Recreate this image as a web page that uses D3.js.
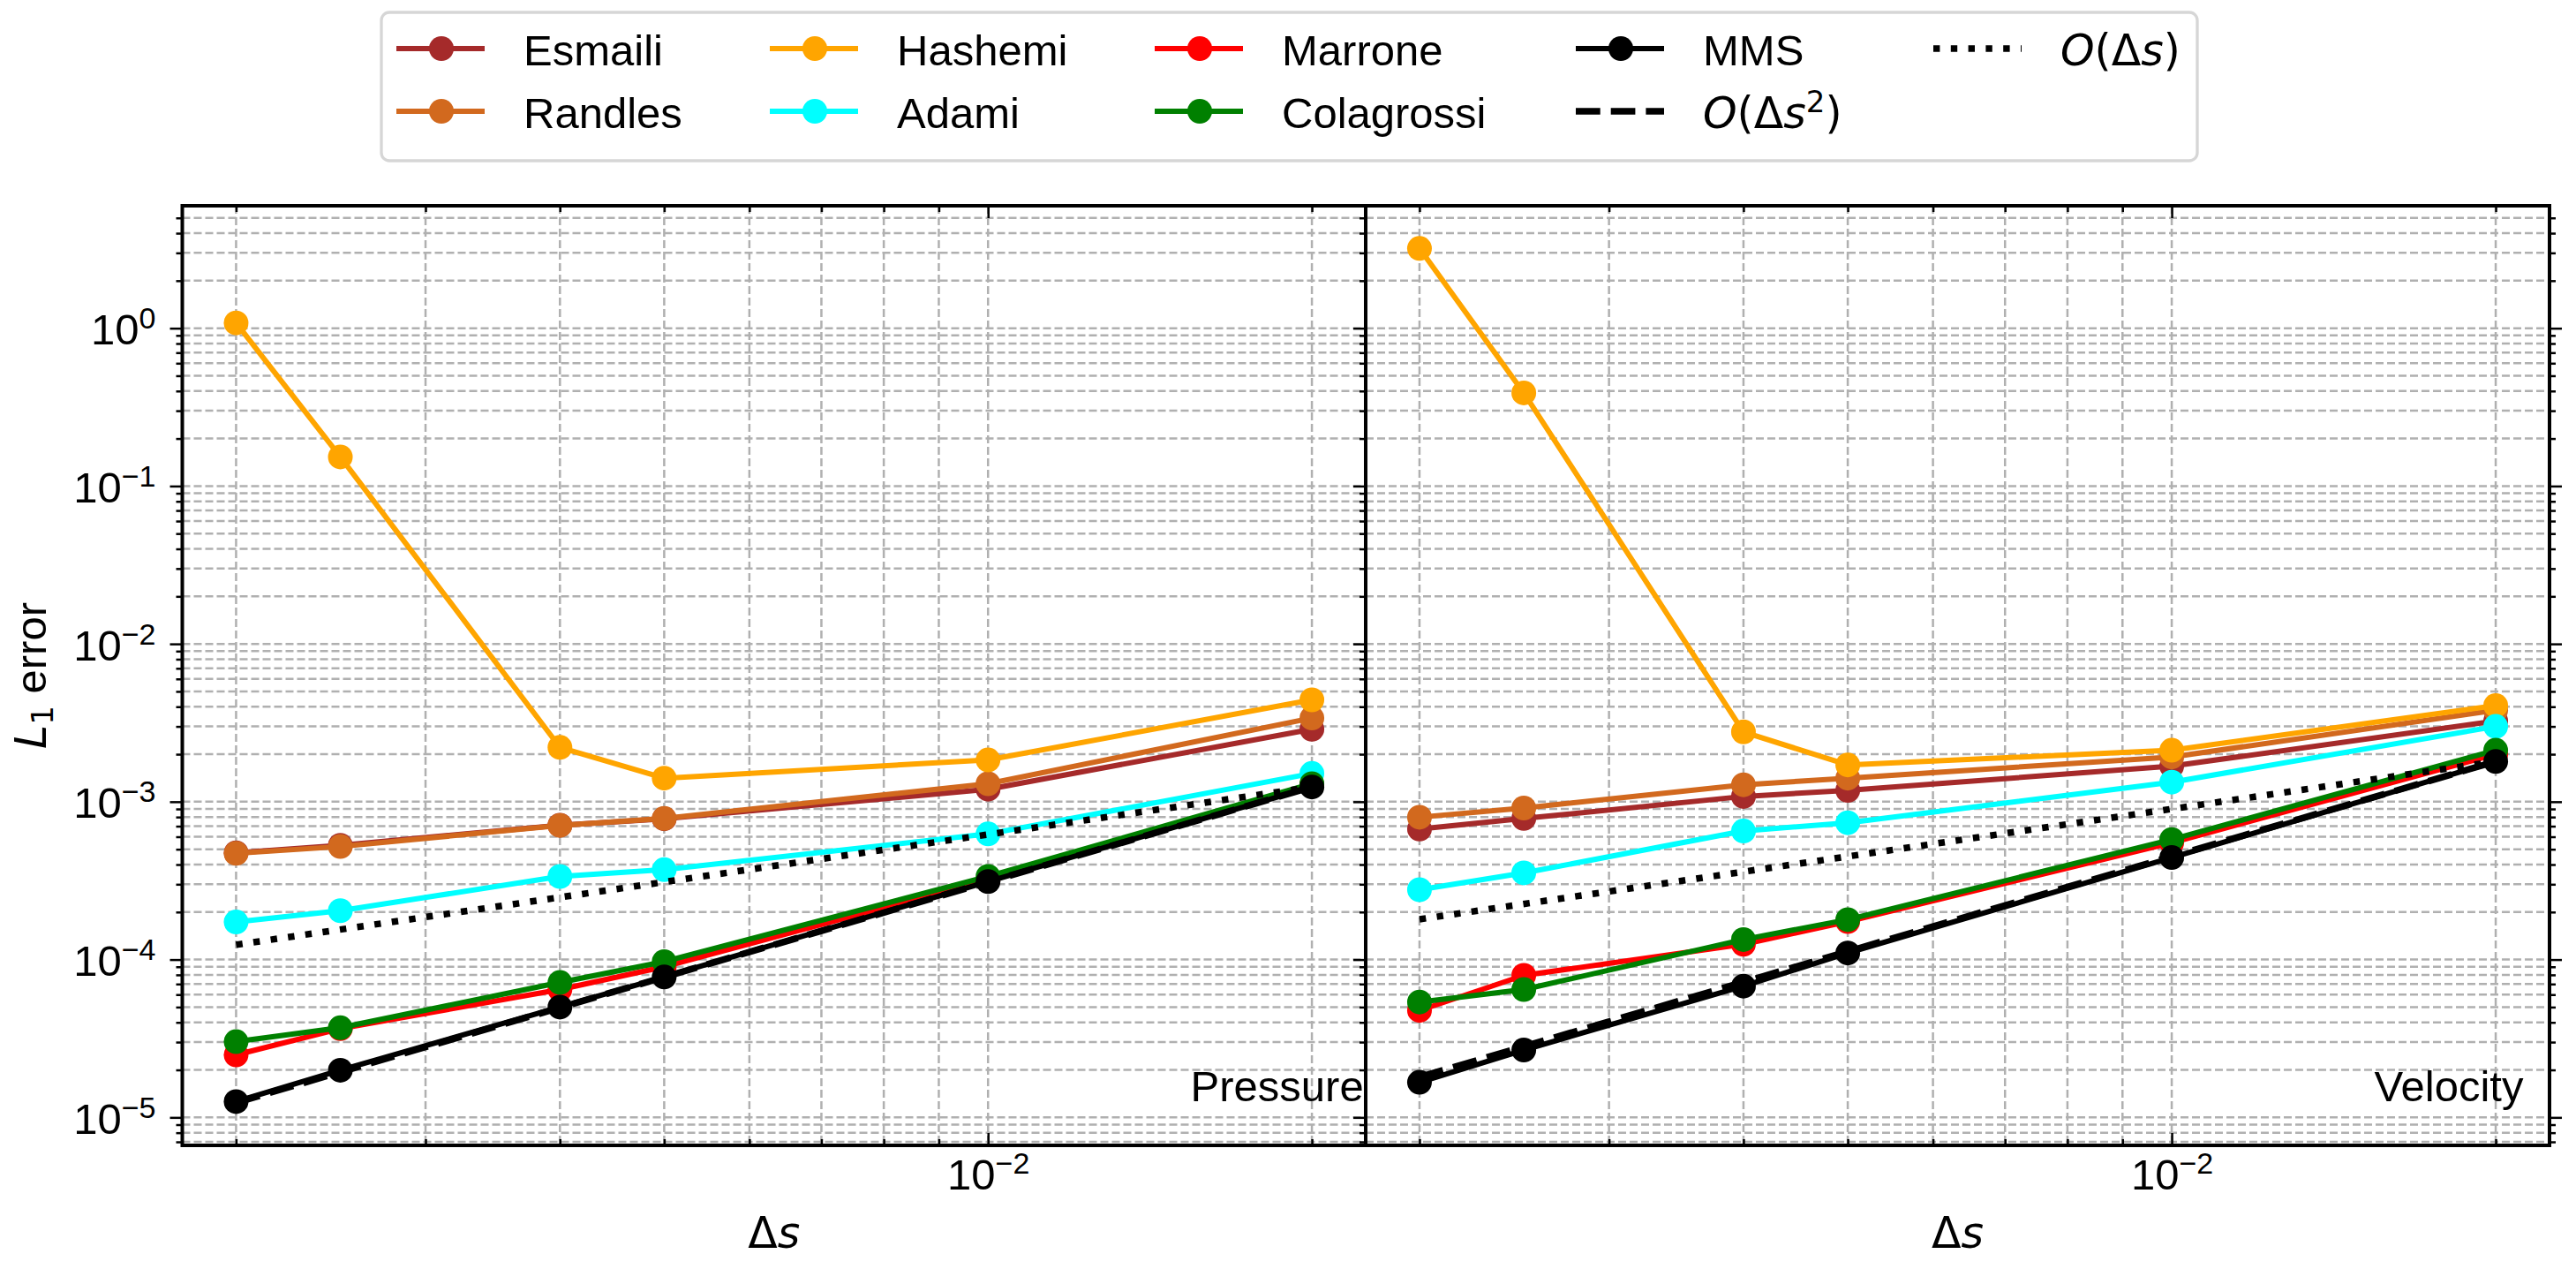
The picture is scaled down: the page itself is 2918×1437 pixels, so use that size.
<!DOCTYPE html>
<html>
<head>
<meta charset="utf-8">
<script src="https://cdn.jsdelivr.net/npm/d3@7"></script>
<style>
  body { margin: 0; background: #fff; }
  svg { display: block; }
  text { font-family: "Liberation Sans", Arial, Helvetica, sans-serif; fill: #000; }
  .math { font-family: "DejaVu Sans", sans-serif; }
</style>
</head>
<body>
<svg id="chart" width="2918" height="1437"></svg>
<script>
// ---- data ----
const deltaS = [0.002, 0.0025, 0.004, 0.005, 0.01, 0.02];
const methods = ['Esmaili', 'Randles', 'Hashemi', 'Adami', 'Marrone', 'Colagrossi', 'MMS'];
const methodColors = ['#a52a2a', '#d2691e', '#ffa500', '#00ffff', '#ff0000', '#008000', '#000000'];

// pressure L1 error
const esmailiP    = [4.75e-4, 5.3e-4, 7.1e-4, 7.8e-4, 1.2e-3, 2.88e-3];
const randlesP    = [4.71e-4, 5.2e-4, 7.08e-4, 7.83e-4, 1.3e-3, 3.39e-3];
const hashemiP    = [1.08, 0.153, 2.21e-3, 1.41e-3, 1.84e-3, 4.42e-3];
const adamiP      = [1.73e-4, 2.04e-4, 3.36e-4, 3.71e-4, 6.25e-4, 1.51e-3];
const marroneP    = [2.49e-5, 3.65e-5, 6.46e-5, 9.0e-5, 3.2e-4, 1.28e-3];
const colagrossiP = [3.02e-5, 3.7e-5, 7.16e-5, 9.7e-5, 3.36e-4, 1.3e-3];
const mmsP        = [1.26e-5, 1.99e-5, 5.0e-5, 7.76e-5, 3.12e-4, 1.24e-3];

// velocity L1 error
const esmailiV    = [6.71e-4, 7.83e-4, 1.08e-3, 1.18e-3, 1.68e-3, 3.25e-3];
const randlesV    = [7.98e-4, 9.12e-4, 1.28e-3, 1.41e-3, 1.92e-3, 3.8e-3];
const hashemiV    = [3.2, 0.389, 2.77e-3, 1.71e-3, 2.12e-3, 4.07e-3];
const adamiV      = [2.77e-4, 3.54e-4, 6.52e-4, 7.36e-4, 1.33e-3, 3.0e-3];
const marroneV    = [4.76e-5, 7.94e-5, 1.25e-4, 1.74e-4, 5.5e-4, 2.0e-3];
const colagrossiV = [5.38e-5, 6.46e-5, 1.34e-4, 1.79e-4, 5.76e-4, 2.12e-3];
const mmsV        = [1.67e-5, 2.67e-5, 6.79e-5, 1.1e-4, 4.43e-4, 1.8e-3];

// reference slope lines (end points)
const refDeltaS = [0.002, 0.02];
const order2P = [1.24e-5, 1.24e-3];
const order1P = [1.24e-4, 1.24e-3];
const order2V = [1.8e-5, 1.8e-3];
const order1V = [1.8e-4, 1.8e-3];

// ---- layout ----
const svg = d3.select('#chart');
const plotTop = 233, plotBottom = 1297;
const FS = 49, SUP = 34;
const lineW = 6, refW = 7.5, markerR = 14;
const dotted = '7.4,12.4', dashed = '27.7,12';

const panels = [
  { name: 'Pressure', x0: 206.5, x1: 1547, series: [esmailiP, randlesP, hashemiP, adamiP, marroneP, colagrossiP, mmsP], ref2: order2P, ref1: order1P },
  { name: 'Velocity', x0: 1547, x1: 2888, series: [esmailiV, randlesV, hashemiV, adamiV, marroneV, colagrossiV, mmsV], ref2: order2V, ref1: order1V }
];

// autoscale with 5% margin in log space, like matplotlib
function logPad(vals) {
  const lo = Math.log10(d3.min(vals)), hi = Math.log10(d3.max(vals));
  const p = (hi - lo) * 0.05;
  return [Math.pow(10, lo - p), Math.pow(10, hi + p)];
}
const allY = panels.flatMap(p => p.series.flat().concat(p.ref2, p.ref1));
const yDomain = logPad(allY);
const xDomain = logPad(deltaS);
const y = d3.scaleLog().domain(yDomain).range([plotBottom, plotTop]);

function logTicks(dom) {
  const out = [];
  for (let k = -8; k <= 2; k++) {
    for (let m = 1; m < 10; m++) {
      const v = +(m * Math.pow(10, k)).toPrecision(6);
      if (v >= dom[0] && v <= dom[1]) out.push({ v: v, major: m === 1, exp: k });
    }
  }
  return out;
}
const yTicks = logTicks(yDomain);
const xTicks = logTicks(xDomain);

// rich text helper: parts = [{t, italic, sup, sub, math}]
function rich(textSel, parts, size) {
  let shift = 0;
  parts.forEach(p => {
    const ts = textSel.append('tspan').text(p.t);
    let target = 0;
    if (p.sup) { target = -size * 0.37; ts.attr('font-size', SUP); }
    if (p.sub) { target = size * 0.16; ts.attr('font-size', SUP); }
    if (target !== shift) { ts.attr('dy', target - shift); shift = target; }
    if (p.italic) ts.attr('font-style', 'italic');
    if (p.math) ts.attr('class', 'math');
  });
  return textSel;
}
function powLabel(exp) {
  return [{ t: '10' }, { t: String(exp).replace('-', '\u2212'), sup: true }];
}

panels.forEach((pn, pi) => {
  const x = d3.scaleLog().domain(xDomain).range([pn.x0, pn.x1]);
  const g = svg.append('g');

  // grid, major and minor
  const grid = g.append('g').attr('stroke', '#b0b0b0').attr('stroke-width', 2.5)
    .attr('stroke-dasharray', '9,4').attr('fill', 'none');
  grid.selectAll('.gy').data(yTicks).join('line')
    .attr('x1', pn.x0).attr('x2', pn.x1)
    .attr('y1', d => y(d.v)).attr('y2', d => y(d.v));
  grid.selectAll('.gx').data(xTicks).join('line')
    .attr('x1', d => x(d.v)).attr('x2', d => x(d.v))
    .attr('y1', plotTop).attr('y2', plotBottom);

  // data series
  const line = d3.line().x(d => x(d[0])).y(d => y(d[1]));
  pn.series.forEach((vals, si) => {
    const pts = deltaS.map((d, i) => [d, vals[i]]);
    g.append('path').datum(pts).attr('d', line)
      .attr('fill', 'none').attr('stroke', methodColors[si]).attr('stroke-width', lineW)
      .attr('stroke-linejoin', 'round');
    g.selectAll(null).data(pts).join('circle')
      .attr('cx', d => x(d[0])).attr('cy', d => y(d[1])).attr('r', markerR)
      .attr('fill', methodColors[si]);
  });

  // reference lines
  [[pn.ref2, dashed], [pn.ref1, dotted]].forEach(([vals, dash]) => {
    g.append('path').datum(refDeltaS.map((d, i) => [d, vals[i]])).attr('d', line)
      .attr('fill', 'none').attr('stroke', '#000').attr('stroke-width', refW)
      .attr('stroke-dasharray', dash);
  });

  // ticks via d3 axes
  const majY = yTicks.filter(d => d.major).map(d => d.v);
  const minY = yTicks.filter(d => !d.major).map(d => d.v);
  const majX = xTicks.filter(d => d.major).map(d => d.v);
  const minX = xTicks.filter(d => !d.major).map(d => d.v);

  function styleAxis(sel) {
    sel.select('.domain').remove();
    sel.selectAll('line').attr('stroke', '#000').attr('stroke-width', 2.5);
    sel.selectAll('text').remove();
  }
  const yAxisSides = pi === 0 ? [['left', pn.x0]] : [['left', pn.x0], ['right', pn.x1]];
  yAxisSides.forEach(([side, xpos]) => {
    const mk = side === 'left' ? d3.axisLeft : d3.axisRight;
    g.append('g').attr('transform', `translate(${xpos},0)`)
      .call(mk(y).tickValues(minY).tickSize(7).tickFormat(() => '')).call(styleAxis);
    const maj = g.append('g').attr('transform', `translate(${xpos},0)`)
      .call(mk(y).tickValues(majY).tickSize(14).tickFormat(() => '')).call(styleAxis);
    if (pi === 0 && side === 'left') {
      maj.selectAll('.tick').each(function(v) {
        const e = Math.round(Math.log10(v));
        rich(d3.select(this).append('text').attr('x', -30).attr('y', 18)
          .attr('text-anchor', 'end').attr('font-size', FS), powLabel(e), FS);
      });
    }
  });

  [['bottom', plotBottom], ['top', plotTop]].forEach(([side, ypos]) => {
    const mk = side === 'bottom' ? d3.axisBottom : d3.axisTop;
    g.append('g').attr('transform', `translate(0,${ypos})`)
      .call(mk(x).tickValues(minX).tickSize(-7).tickFormat(() => '')).call(styleAxis);
    const maj = g.append('g').attr('transform', `translate(0,${ypos})`)
      .call(mk(x).tickValues(majX).tickSize(-14).tickFormat(() => '')).call(styleAxis);
    if (side === 'bottom') {
      maj.selectAll('.tick').each(function(v) {
        const e = Math.round(Math.log10(v));
        rich(d3.select(this).append('text').attr('x', 0).attr('y', 50)
          .attr('text-anchor', 'middle').attr('font-size', FS), powLabel(e), FS);
      });
    }
  });

  // spines
  g.append('rect').attr('x', pn.x0).attr('y', plotTop)
    .attr('width', pn.x1 - pn.x0).attr('height', plotBottom - plotTop)
    .attr('fill', 'none').attr('stroke', '#000').attr('stroke-width', 4);

  // panel name
  g.append('text').attr('x', pn.x0 + 0.852 * (pn.x1 - pn.x0)).attr('y', 1247)
    .attr('font-size', FS).text(pn.name);

  // x label
  rich(g.append('text').attr('x', (pn.x0 + pn.x1) / 2).attr('y', 1413)
    .attr('text-anchor', 'middle').attr('font-size', FS),
    [{ t: '\u0394', math: true }, { t: 's', italic: true, math: true }], FS);
});

// y label
rich(svg.append('text').attr('transform', 'translate(52,765) rotate(-90)')
  .attr('text-anchor', 'middle').attr('font-size', FS),
  [{ t: 'L', italic: true, math: true }, { t: '1', sub: true, math: true }, { t: ' error' }], FS);

// ---- legend ----
const legendItems = [
  { parts: [{ t: 'Esmaili' }], color: methodColors[0], marker: true },
  { parts: [{ t: 'Randles' }], color: methodColors[1], marker: true },
  { parts: [{ t: 'Hashemi' }], color: methodColors[2], marker: true },
  { parts: [{ t: 'Adami' }], color: methodColors[3], marker: true },
  { parts: [{ t: 'Marrone' }], color: methodColors[4], marker: true },
  { parts: [{ t: 'Colagrossi' }], color: methodColors[5], marker: true },
  { parts: [{ t: 'MMS' }], color: methodColors[6], marker: true },
  { parts: [{ t: 'O', italic: true, math: true }, { t: '(\u0394', math: true }, { t: 's', italic: true, math: true }, { t: '2', sup: true, math: true }, { t: ')', math: true }], color: '#000', dash: dashed },
  { parts: [{ t: 'O', italic: true, math: true }, { t: '(\u0394', math: true }, { t: 's', italic: true, math: true }, { t: ')', math: true }], color: '#000', dash: dotted }
];
const legendCols = [449, 872, 1308, 1785, 2190];
const legendRows = [55, 126];

const lg = svg.append('g');
lg.append('rect').attr('x', 432).attr('y', 14).attr('width', 2057).attr('height', 168)
  .attr('rx', 9).attr('fill', '#fff').attr('stroke', '#d6d6d6').attr('stroke-width', 3.3);

legendItems.forEach((it, i) => {
  const lx = legendCols[Math.floor(i / 2)], ly = legendRows[i % 2];
  const h = lg.append('line').attr('x1', lx).attr('x2', lx + 100).attr('y1', ly).attr('y2', ly)
    .attr('stroke', it.color).attr('stroke-width', it.dash ? refW : lineW);
  if (it.dash) h.attr('stroke-dasharray', it.dash);
  if (it.marker) {
    lg.append('circle').attr('cx', lx + 51).attr('cy', ly).attr('r', markerR).attr('fill', it.color);
  }
  rich(lg.append('text').attr('x', lx + 144).attr('y', ly + 19).attr('font-size', FS), it.parts, FS);
});
</script>
</body>
</html>
